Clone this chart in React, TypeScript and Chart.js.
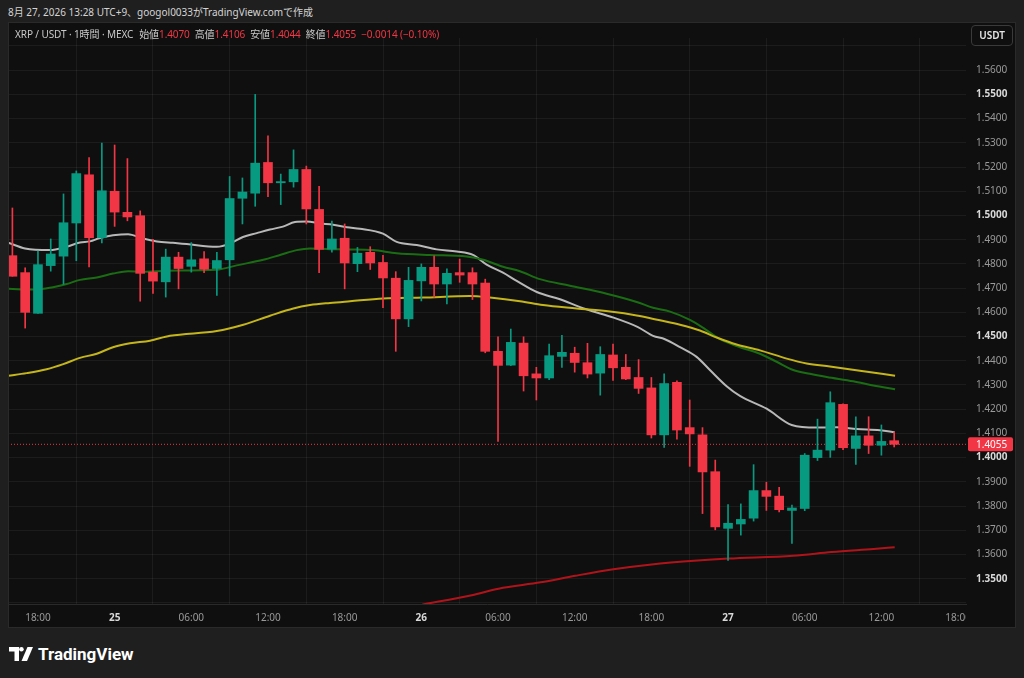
import React, { useEffect, useRef } from 'react';
import { Chart, registerables } from 'chart.js';

Chart.register(...registerables);

const FONT = "'Noto Sans', 'Noto Sans CJK JP', sans-serif";
const UP = '#089981';
const DOWN = '#f23645';

// Hourly candles, index 0 = Aug 24 16:00 (UTC+9)
const opens = [
  1.4834, 1.4764, 1.4596, 1.4793, 1.4832, 1.4969, 1.5168, 1.4908, 1.5100, 1.5013,
  1.4999, 1.4766, 1.4726, 1.4828, 1.4790, 1.4821, 1.4781, 1.4817, 1.5071, 1.5092,
  1.5219, 1.5135, 1.5139, 1.5190, 1.5025, 1.4861, 1.4906, 1.4801, 1.4848, 1.4806,
  1.4741, 1.4573, 1.4730, 1.4786, 1.4717, 1.4764, 1.4764, 1.4721, 1.4439, 1.4382,
  1.4473, 1.4346, 1.4329, 1.4418, 1.4431, 1.4392, 1.4349, 1.4424, 1.4373, 1.4331,
  1.4288, 1.4094, 1.4311, 1.4124, 1.4094, 1.3942, 1.3708, 1.3726, 1.3750, 1.3864,
  1.3841, 1.3782, 1.3790, 1.4000, 1.4031, 1.4220, 1.4038, 1.4090, 1.4051, 1.4070,
];
const highs = [
  1.5031, 1.4784, 1.4853, 1.4903, 1.5089, 1.5184, 1.5239, 1.5299, 1.5291, 1.5235,
  1.5019, 1.4902, 1.4861, 1.4848, 1.4888, 1.4851, 1.4848, 1.5161, 1.5155, 1.5500,
  1.5329, 1.5171, 1.5271, 1.5204, 1.5120, 1.4977, 1.4965, 1.4868, 1.4871, 1.4835,
  1.4768, 1.4786, 1.4800, 1.4833, 1.4780, 1.4820, 1.4784, 1.4737, 1.4499, 1.4531,
  1.4499, 1.4373, 1.4469, 1.4505, 1.4456, 1.4472, 1.4458, 1.4469, 1.4426, 1.4405,
  1.4331, 1.4346, 1.4317, 1.4238, 1.4124, 1.3990, 1.3806, 1.3809, 1.3971, 1.3898,
  1.3877, 1.3804, 1.4017, 1.4159, 1.4272, 1.4222, 1.4169, 1.4169, 1.4135, 1.4106,
];
const lows = [
  1.4749, 1.4535, 1.4596, 1.4770, 1.4716, 1.4813, 1.4788, 1.4887, 1.4955, 1.4978,
  1.4646, 1.4678, 1.4663, 1.4697, 1.4766, 1.4764, 1.4670, 1.4750, 1.4965, 1.5038,
  1.5078, 1.5045, 1.5117, 1.4965, 1.4764, 1.4848, 1.4697, 1.4768, 1.4777, 1.4619,
  1.4439, 1.4541, 1.4647, 1.4663, 1.4635, 1.4724, 1.4653, 1.4433, 1.4067, 1.4380,
  1.4275, 1.4238, 1.4322, 1.4373, 1.4353, 1.4329, 1.4258, 1.4319, 1.4322, 1.4265,
  1.4081, 1.4042, 1.4076, 1.3964, 1.3769, 1.3702, 1.3576, 1.3680, 1.3738, 1.3782,
  1.3776, 1.3646, 1.3781, 1.3988, 1.4001, 1.4033, 1.3972, 1.4017, 1.4010, 1.4044,
];
const closes = [
  1.4749, 1.4600, 1.4797, 1.4841, 1.4970, 1.5173, 1.4908, 1.5102, 1.5014, 1.4994,
  1.4761, 1.4729, 1.4828, 1.4781, 1.4817, 1.4778, 1.4814, 1.5070, 1.5097, 1.5216,
  1.5135, 1.5140, 1.5190, 1.5027, 1.4860, 1.4903, 1.4804, 1.4844, 1.4804, 1.4742,
  1.4573, 1.4732, 1.4786, 1.4717, 1.4761, 1.4754, 1.4717, 1.4439, 1.4381, 1.4476,
  1.4338, 1.4329, 1.4421, 1.4435, 1.4393, 1.4345, 1.4426, 1.4371, 1.4325, 1.4286,
  1.4094, 1.4306, 1.4114, 1.4098, 1.3941, 1.3714, 1.3729, 1.3745, 1.3864, 1.3840,
  1.3785, 1.3792, 1.4010, 1.4031, 1.4227, 1.4041, 1.4090, 1.4051, 1.4067, 1.4055,
];

// Moving averages (x = hour index, y = price)
const maFastX = [-0.34, 0.99, 2.94, 4.25, 5.29, 6.07, 6.85, 7.87, 9.05, 10.22, 11.31, 12.57, 13.64, 15.99, 17.03, 18.04, 19.12, 20.16, 21.17, 22.11, 23.03, 24.07, 25.09, 26.16, 27.2, 29.0, 30.07, 31.64, 33.2, 34.77, 36.04, 37.11, 38.39, 39.46, 41.03, 42.85, 44.65, 46.76, 48.95, 50.13, 51.06, 52.24, 53.54, 54.58, 55.89, 56.93, 59.02, 60.98, 62.94, 64.5, 66.07, 67.89, 69.04];
const maFastY = [1.4888, 1.4864, 1.4857, 1.4871, 1.4888, 1.4893, 1.4907, 1.4918, 1.4923, 1.4905, 1.4893, 1.4887, 1.4882, 1.4871, 1.4884, 1.4911, 1.4927, 1.4942, 1.4954, 1.4973, 1.4975, 1.4967, 1.4962, 1.4951, 1.4945, 1.4925, 1.4891, 1.4878, 1.4860, 1.4851, 1.4837, 1.4797, 1.4764, 1.4730, 1.4684, 1.4654, 1.4617, 1.4583, 1.4539, 1.4503, 1.4489, 1.4456, 1.4416, 1.4362, 1.4295, 1.4255, 1.4202, 1.4135, 1.4124, 1.4125, 1.4118, 1.4113, 1.4105];

const maMidX = [-0.34, 1.90, 3.18, 4.25, 5.29, 6.6, 7.87, 9.05, 10.22, 12.07, 15.99, 17.55, 19.63, 20.94, 22.25, 23.29, 24.85, 26.42, 28.22, 30.07, 32.68, 35.55, 36.85, 38.39, 39.72, 41.28, 43.63, 46.5, 48.85, 50.13, 51.46, 53.02, 54.06, 55.37, 56.93, 58.5, 59.8, 61.1, 62.41, 63.72, 65.8, 67.37, 69.07];
const maMidY = [1.4697, 1.4694, 1.4704, 1.4717, 1.4734, 1.4744, 1.4760, 1.4770, 1.4768, 1.4772, 1.4776, 1.4794, 1.4817, 1.4837, 1.4857, 1.4864, 1.4861, 1.4860, 1.4857, 1.4844, 1.4837, 1.4831, 1.4817, 1.4788, 1.4770, 1.4737, 1.4710, 1.4677, 1.4643, 1.4619, 1.4603, 1.4569, 1.4536, 1.4489, 1.4456, 1.4429, 1.4396, 1.4362, 1.4346, 1.4333, 1.4315, 1.4298, 1.4282];

const maSlowX = [-0.34, 1.12, 2.68, 3.98, 5.29, 6.6, 7.87, 9.2, 10.77, 12.33, 15.99, 18.07, 20.16, 21.98, 23.29, 24.85, 26.42, 29.02, 32.15, 35.81, 37.37, 39.72, 41.52, 44.15, 46.76, 48.85, 50.67, 52.24, 53.8, 55.11, 56.67, 58.5, 60.59, 62.15, 63.97, 66.32, 69.07];
const maSlowY = [1.4338, 1.4349, 1.4365, 1.4386, 1.4412, 1.4429, 1.4456, 1.4472, 1.4483, 1.4503, 1.4523, 1.4549, 1.4586, 1.4616, 1.4630, 1.4639, 1.4646, 1.4657, 1.4661, 1.4667, 1.4661, 1.4646, 1.4630, 1.4616, 1.4603, 1.4587, 1.4567, 1.4549, 1.4525, 1.4496, 1.4467, 1.4443, 1.4409, 1.4389, 1.4376, 1.4359, 1.4338];

const maLongX = [32.06, 35.95, 38.04, 41.34, 44.04, 47.03, 50.02, 53.61, 56.02, 61.1, 64.1, 67.39, 69.04];
const maLongY = [1.3393, 1.3432, 1.3459, 1.3485, 1.3512, 1.3539, 1.3559, 1.3575, 1.3583, 1.3595, 1.3610, 1.3623, 1.3630];

const xTickValues = [2, 8, 14, 20, 26, 32, 38, 44, 50, 56, 62, 68, 74];
const xTickLabels = ['18:00', '25', '06:00', '12:00', '18:00', '26', '06:00', '12:00', '18:00', '27', '06:00', '12:00', '18:00'];
const xTickBold = [false, true, false, false, false, true, false, false, false, true, false, false, false];

const yTickValues = [1.34, 1.35, 1.36, 1.37, 1.38, 1.39, 1.40, 1.41, 1.42, 1.43, 1.44, 1.45, 1.46, 1.47, 1.48, 1.49, 1.50, 1.51, 1.52, 1.53, 1.54, 1.55, 1.56, 1.57];
const yTickLabels = ['', '1.3500', '1.3600', '1.3700', '1.3800', '1.3900', '1.4000', '1.4100', '1.4200', '1.4300', '1.4400', '1.4500', '1.4600', '1.4700', '1.4800', '1.4900', '1.5000', '1.5100', '1.5200', '1.5300', '1.5400', '1.5500', '1.5600', ''];
const yTickBold = [false, true, false, false, false, false, true, false, false, false, false, true, false, false, false, false, true, false, false, false, false, true, false, false];

const lastPrice = 1.4055;
const lastPriceLabel = '1.4055';

const X_MIN = -0.344;
const X_MAX = 74.62;
const Y_MIN = 1.33956;
const Y_MAX = 1.57329;

const lastPricePlugin = {
  id: 'lastPrice',
  afterDraw(chart: any) {
    const { ctx, chartArea, scales } = chart;
    ctx.save();
    ctx.fillStyle = '#0f0f0f';
    ctx.fillRect(chartArea.right, chartArea.bottom + 1, chart.width - chartArea.right, chart.height - chartArea.bottom - 1);
    const y = scales.y.getPixelForValue(lastPrice);
    ctx.fillStyle = DOWN;
    ctx.beginPath();
    if (ctx.roundRect) ctx.roundRect(chartArea.right + 2, y - 7, 45, 14, 2);
    else ctx.rect(chartArea.right + 2, y - 7, 45, 14);
    ctx.fill();
    ctx.fillStyle = '#ffffff';
    ctx.font = `10px ${FONT}`;
    ctx.textBaseline = 'middle';
    ctx.textAlign = 'left';
    ctx.fillText(lastPriceLabel, chartArea.right + 10, y + 0.5);
    ctx.restore();
  },
};

function line(xs: number[], ys: number[], color: string) {
  return {
    type: 'line' as const,
    data: xs.map((x, i) => ({ x, y: ys[i] })),
    borderColor: color,
    borderWidth: 2,
    pointRadius: 0,
    cubicInterpolationMode: 'monotone' as const,
    order: 5,
  };
}

export default function App() {
  const ref = useRef<HTMLCanvasElement | null>(null);

  useEffect(() => {
    if (!ref.current) return;
    const idx = opens.map((_, i) => i);
    const colors = idx.map((i) => (closes[i] >= opens[i] ? UP : DOWN));
    const chart = new Chart(ref.current, {
      type: 'bar',
      data: {
        datasets: [
          line(maSlowX, maSlowY, '#c4b51c'),
          line(maMidX, maMidY, '#1b6d14'),
          line(maFastX, maFastY, '#b8b8b8'),
          line(maLongX, maLongY, '#b0141a'),
          {
            type: 'line',
            data: [
              { x: X_MIN, y: lastPrice },
              { x: X_MAX, y: lastPrice },
            ],
            borderColor: DOWN,
            borderWidth: 1,
            borderDash: [1, 2],
            pointRadius: 0,
            order: 4,
          } as any,
          {
            type: 'bar',
            data: idx.map((i) => ({ x: i, y: [lows[i], highs[i]] })),
            backgroundColor: colors,
            barThickness: 1,
            grouped: false,
            borderWidth: 0,
            order: 2,
          } as any,
          {
            type: 'bar',
            data: idx.map((i) => ({ x: i, y: [Math.min(opens[i], closes[i]), Math.max(opens[i], closes[i])] })),
            backgroundColor: colors,
            barThickness: 9,
            grouped: false,
            borderWidth: 0,
            minBarLength: 1,
            order: 1,
          } as any,
        ],
      },
      options: {
        animation: false,
        responsive: false,
        maintainAspectRatio: false,
        devicePixelRatio: 1,
        layout: { padding: 0 },
        plugins: { legend: { display: false }, tooltip: { enabled: false } },
        scales: {
          x: {
            type: 'linear',
            min: X_MIN,
            max: X_MAX,
            offset: false,
            grid: { color: 'rgba(255,255,255,0.055)', drawTicks: false },
            border: { color: '#2a2a2a' },
            afterBuildTicks: (s: any) => {
              s.ticks = xTickValues.map((v) => ({ value: v }));
            },
            afterFit: (s: any) => {
              s.height = 24;
            },
            ticks: {
              autoSkip: false,
              maxRotation: 0,
              padding: 8,
              callback: (_v: any, i: number) => xTickLabels[i],
              color: (c: any) => (xTickBold[c.index] ? '#d8d8d8' : '#9a9a9a'),
              font: (c: any) => ({ family: FONT, size: 10, weight: xTickBold[c.index] ? 'bold' : 'normal' }),
            },
          } as any,
          y: {
            type: 'linear',
            position: 'right',
            min: Y_MIN,
            max: Y_MAX,
            grid: { color: 'rgba(255,255,255,0.055)', drawTicks: false },
            border: { display: false },
            afterBuildTicks: (s: any) => {
              s.ticks = yTickValues.map((v) => ({ value: v }));
            },
            afterFit: (s: any) => {
              s.width = 50;
            },
            ticks: {
              autoSkip: false,
              padding: 10,
              callback: (_v: any, i: number) => yTickLabels[i],
              color: (c: any) => (yTickBold[c.index] ? '#d8d8d8' : '#9a9a9a'),
              font: (c: any) => ({ family: FONT, size: 10, weight: yTickBold[c.index] ? 'bold' : 'normal' }),
            },
          } as any,
        },
      },
      plugins: [lastPricePlugin],
    } as any);
    return () => chart.destroy();
  }, []);

  const legendLabel: React.CSSProperties = { color: '#c9c9c9' };
  const legendVal: React.CSSProperties = { color: DOWN, marginRight: 5 };

  return (
    <div
      style={{
        position: 'fixed',
        left: 0,
        top: 0,
        width: 1024,
        height: 678,
        background: '#1f1f1f',
        fontFamily: FONT,
        overflow: 'hidden',
      }}
    >
      <div
        style={{
          position: 'absolute',
          left: 8,
          top: 5,
          fontSize: 10,
          lineHeight: '15px',
          color: '#d4d4d4',
          whiteSpace: 'nowrap',
        }}
      >
        8月 27, 2026 13:28 UTC+9、googol0033がTradingView.comで作成
      </div>
      <div
        style={{
          position: 'absolute',
          left: 8,
          top: 22,
          width: 1008,
          height: 606,
          background: '#0f0f0f',
        }}
      >
        <canvas ref={ref} width={1008} height={606} style={{ display: 'block', width: 1008, height: 606 }} />
        <div
          style={{
            position: 'absolute',
            left: 7,
            top: 5,
            fontSize: 10,
            lineHeight: '15px',
            whiteSpace: 'nowrap',
            letterSpacing: -0.1,
          }}
        >
          <span style={{ color: '#c9c9c9', marginRight: 6 }}>XRP / USDT · 1時間 · MEXC</span>
          <span style={legendLabel}>始値</span>
          <span style={legendVal}>1.4070</span>
          <span style={legendLabel}>高値</span>
          <span style={legendVal}>1.4106</span>
          <span style={legendLabel}>安値</span>
          <span style={legendVal}>1.4044</span>
          <span style={legendLabel}>終値</span>
          <span style={legendVal}>1.4055</span>
          <span style={{ color: DOWN }}>−0.0014 (−0.10%)</span>
        </div>
        <div
          style={{
            position: 'absolute',
            left: 963,
            top: 3,
            width: 42,
            height: 21,
            boxSizing: 'border-box',
            border: '1px solid #3a3a3a',
            borderRadius: 4,
            color: '#e6e6e6',
            fontSize: 10,
            fontWeight: 600,
            lineHeight: '19px',
            textAlign: 'center',
          }}
        >
          USDT
        </div>
        <div
          style={{
            position: 'absolute',
            inset: 0,
            border: '1px solid #2a2a2a',
            pointerEvents: 'none',
          }}
        />
      </div>
      <div style={{ position: 'absolute', left: 9, top: 646, display: 'flex', alignItems: 'center' }}>
        <svg width={24} height={14} viewBox="0 0 24 14">
          <path d="M0 0 H10 V14 H5.5 V4.5 H0 Z" fill="#ffffff" />
          <circle cx={12.4} cy={2.3} r={2.3} fill="#ffffff" />
          <path d="M18.5 0 H24 L18 14 H12.5 Z" fill="#ffffff" />
        </svg>
        <span
          style={{
            marginLeft: 5,
            color: '#ffffff',
            fontFamily: "Roboto, 'Noto Sans', sans-serif",
            fontWeight: 700,
            fontSize: 17,
            lineHeight: '16px',
          }}
        >
          TradingView
        </span>
      </div>
    </div>
  );
}
